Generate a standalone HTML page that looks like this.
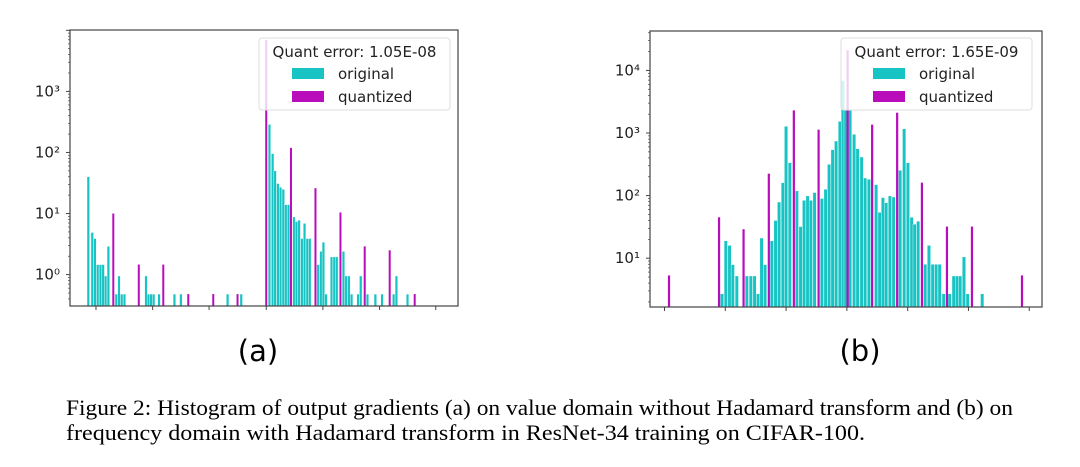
<!DOCTYPE html>
<html><head><meta charset="utf-8"><style>
html,body{margin:0;padding:0;background:#fff;}
svg{display:block;font-family:"DejaVu Sans","Liberation Sans",sans-serif;}
.cap{font-family:"Liberation Serif",serif;}
</style></head><body>
<svg id="fig" width="1080" height="467" viewBox="0 0 1080 467">
<g id="chartA"></g>
<g id="chartB"></g>
<text x="258" y="361" font-size="29" text-anchor="middle">(a)</text>
<text x="860" y="361" font-size="29" text-anchor="middle">(b)</text>
<text class="cap" style="font-family:'Liberation Serif',serif" x="66" y="415" font-size="22" textLength="947" lengthAdjust="spacingAndGlyphs">Figure 2: Histogram of output gradients (a) on value domain without Hadamard transform and (b) on</text>
<text class="cap" style="font-family:'Liberation Serif',serif" x="66" y="440" font-size="22" textLength="799" lengthAdjust="spacingAndGlyphs">frequency domain with Hadamard transform in ResNet-34 training on CIFAR-100.</text>
</svg>
<script>
// ---- Chart A data ----
const aOrigX = [-7.19,-7.03,-6.92,-6.81,-6.7,-6.59,-6.49,-6.38,-6.06,-5.95,-5.84,-5.73,-4.86,-4.76,-4.66,-4.55,-4.33,-3.71,-3.45,-1.56,-1.01,0.13,0.26,0.36,0.47,0.58,0.69,0.79,0.9,1.12,1.22,1.33,1.44,1.55,1.66,1.76,2.1,2.21,2.31,2.42,2.64,2.75,2.85,3.12,3.23,3.34,3.45,3.71,3.82,4.09,4.41,4.68,5.15,5.26,5.71];
const aOrigV = [40,4.9,3.9,1.46,1.46,1.46,0.95,2.9,0.48,0.95,0.48,0.48,0.95,0.48,0.48,0.48,0.48,0.48,0.48,0.48,0.48,288,96,50,31,27,25,14,14,8.8,7.4,7.8,3.9,6.9,3.9,3.9,1.46,2.4,3.4,0.48,1.95,1.95,1.95,2.4,0.95,0.95,0.48,0.48,0.95,0.48,0.48,0.48,0.48,0.95,0.48];
const aQuantX = [-6.18,-5.15,-4.16,-3.15,-2.14,-1.16,0,1.0,1.99,3.0,3.98,4.99,6.0];
const aQuantV = [10,1.46,1.46,0.48,0.48,0.48,7000,119,26,10.4,2.9,2.5,0.48];
const aXTicks = [-6.88,-4.59,-2.31,0,2.29,4.58,6.85];
const aYTicks = [0,1,2,3];
const aLegendTitle = "Quant error: 1.05E-08";
// ---- Chart B data ----
const bOrigX = [-4.99,-4.84,-4.69,-4.56,-4.4,-4.0,-3.84,-3.69,-3.55,-3.41,-3.27,-3.0,-2.85,-2.71,-2.56,-2.43,-2.28,-2.0,-1.85,-1.71,-1.57,-1.44,-1.29,-1.0,-0.85,-0.71,-0.57,-0.43,-0.28,-0.16,-0.05,0.13,0.29,0.43,0.59,0.73,0.88,1.17,1.31,1.44,1.57,1.72,1.87,2.13,2.29,2.44,2.59,2.71,2.85,3.13,3.28,3.43,3.57,3.71,3.87,4.11,4.27,4.4,4.53,4.68,4.83,5.41];
const bOrigV = [2.7,19,16,7.9,5.2,5.2,5.2,5.2,2.7,21,7.9,19,40,79,161,1280,336,119,32,84,99,84,112,90,126,316,542,745,1535,6900,2300,2300,953,562,414,191,182,150,54,93,77,99,95,254,1170,336,45,35,39,8,16,8,8,8,2.7,2.7,5.2,5.2,5.2,10.5,2.7,2.7];
const bQuantX = [-7.11,-5.11,-4.13,-3.12,-2.12,-1.13,0.03,1.01,2.01,3.0,4.0,5.0,7.0];
const bQuantV = [5.3,45,29,224,2300,1130,21000,1360,2110,161,32,32,5.3];
const bXTicks = [-7.29,-4.86,-2.43,0,2.43,4.86,7.29];
const bYTicks = [1,2,3,4];
const bLegendTitle = "Quant error: 1.65E-09";

const NS="http://www.w3.org/2000/svg";
function mk(tag,attrs,parent){const e=document.createElementNS(NS,tag);for(const k in attrs)e.setAttribute(k,attrs[k]);parent.appendChild(e);return e;}
const supers={"0":"⁰","1":"¹","2":"²","3":"³","4":"⁴"};

function draw(g,cfg){
  const {L,R,T,B,xmin,xmax,lmin,lmax,ox,ov,qx,qv,xt,yt,bw,qw,legend,title}=cfg;
  const xs=v=>L+(v-xmin)/(xmax-xmin)*(R-L);
  const ys=v=>B-(Math.log10(v)-lmin)/(lmax-lmin)*(B-T);
  for(let i=0;i<ox.length;i++){
    const x=xs(ox[i]),y=Math.min(ys(ov[i]),B);
    const r=mk('rect',{x:x-bw/2,y:y,width:bw,height:B-y,fill:'#17c3c3',stroke:'#fff','stroke-width':0.4},g);
    
    
  }
  for(let i=0;i<qx.length;i++){
    const x=xs(qx[i]),y=Math.max(Math.min(ys(qv[i]),B),T);
    const r=mk('rect',{x:x-qw/2,y:y,width:qw,height:B-y,fill:'#b90dbc'},g);
    
    
  }
  const f=mk('rect',{x:L,y:T,width:R-L,height:B-T,fill:'none',stroke:'#444','stroke-width':1.2},g);
  
  
  xt.forEach(t=>{const x=xs(t);const l=mk('line',{x1:x,x2:x,y1:B,y2:B+4,stroke:'#444','stroke-width':1},g);
    
    });
  for(let d=Math.floor(lmin);d<=Math.ceil(lmax);d++){
    for(let m=1;m<10;m++){
      const lv=d+Math.log10(m);
      if(lv<lmin||lv>lmax)continue;
      const y=B-(lv-lmin)/(lmax-lmin)*(B-T);
      const l=mk('line',{x1:L-(m===1?4:2),x2:L,y1:y,y2:y,stroke:'#444','stroke-width':m===1?1:0.7},g);
      
      
    }
  }
  yt.forEach(d=>{const y=B-(d-lmin)/(lmax-lmin)*(B-T);
    const t=mk('text',{x:L-10,y:y+5,'font-size':15,'text-anchor':'end',fill:'#222'},g);
    t.textContent='10'+supers[d];
    
    });
  const lg=mk('g',{},g);
  
  
  mk('rect',{x:legend.x,y:legend.y,width:legend.w,height:legend.h,rx:3,fill:'#fff','fill-opacity':0.8,stroke:'#ddd'},lg);
  const tt=mk('text',{x:legend.x+legend.w/2,y:legend.y+19,'font-size':15,'text-anchor':'middle',fill:'#222'},lg);
  tt.textContent=title;
  
  
  [['original','#17c3c3',30],['quantized','#b90dbc',53]].forEach(([n,c,dy])=>{
    const p=mk('rect',{x:legend.px,y:legend.y+dy,width:32,height:11,fill:c},lg);
    
    
    const t=mk('text',{x:legend.px+46,y:legend.y+dy+11,'font-size':15,fill:'#222'},lg);
    t.textContent=n;
    
    
  });
}
draw(document.getElementById('chartA'),{L:70,R:458,T:30,B:306,xmin:-7.93,xmax:7.75,lmin:-0.514,lmax:4.005,
  ox:aOrigX,ov:aOrigV,qx:aQuantX,qv:aQuantV,xt:aXTicks,yt:aYTicks,bw:2.6,qw:2,title:aLegendTitle,
  legend:{x:259,y:38,w:191,h:72,px:292}});
draw(document.getElementById('chartB'),{L:650,R:1042,T:31,B:307,xmin:-7.87,xmax:7.8,lmin:0.22,lmax:4.63,
  ox:bOrigX,ov:bOrigV,qx:bQuantX,qv:bQuantV,xt:bXTicks,yt:bYTicks,bw:3.4,qw:2.2,title:bLegendTitle,
  legend:{x:841,y:38,w:191,h:72,px:873}});
</script>
</body></html>
